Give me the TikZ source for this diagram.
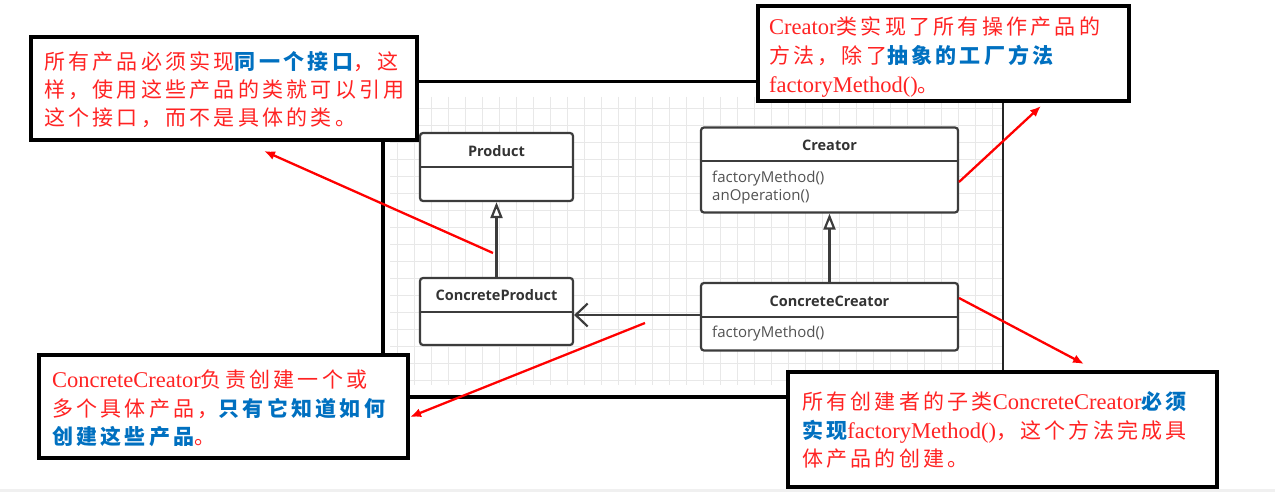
\documentclass[tikz,border=0pt]{standalone}
\usepackage{fontspec}
\setmainfont{Liberation Serif}
\newfontfamily\cjk[LetterSpace=15.5]{Noto Sans CJK SC}
\newfontfamily\umlf{Open Sans}
\usetikzlibrary{arrows.meta}
\definecolor{txtred}{RGB}{255,35,35}
\definecolor{txtblue}{RGB}{0,112,192}
\definecolor{umlline}{RGB}{60,60,60}
\definecolor{umltext}{RGB}{51,51,51}
\definecolor{gridc}{RGB}{232,232,232}
\newcommand{\zh}[1]{{\cjk #1}}
\newcommand{\zhb}[1]{{\color{txtblue}\cjk\bfseries #1}}
\newcommand{\la}[1]{{\rmfamily\fontsize{22.5}{25}\selectfont #1}}
\tikzset{
  gridline/.style={draw=gridc, line width=1pt},
  umlbox/.style={draw=umlline, line width=2.2pt, rounded corners=3pt, fill=white, inner sep=0pt},
  umldiv/.style={draw=umlline, line width=2pt},
  umltitle/.style={inner sep=0pt, text=umltext, font=\umlf\bfseries\fontsize{14.5}{17}\selectfont},
  umlmeth/.style={inner sep=0pt, anchor=west, text=umltext!85, font=\umlf\fontsize{15}{17}\selectfont},
  gen/.style={draw=umlline, line width=2.2pt, -{Triangle[open, length=16pt, width=12pt, fill=white]}},
  assoc/.style={draw=umlline, line width=2.2pt, -{Straight Barb[length=12pt, width=23pt]}},
  redarrow/.style={draw=red, line width=2.3pt, -{Latex[length=11pt, width=9pt]}},
  callout/.style={draw=black, line width=3.2pt, fill=white, inner sep=0pt},
  cline/.style={anchor=base west, inner sep=0pt, text=txtred, font=\fontsize{21}{25}\selectfont}
}
\begin{document}
\begin{tikzpicture}[x=1pt,y=-1pt]
\useasboundingbox (0,0) rectangle (1275,492);
\fill[white] (0,0) rectangle (1275,492);
\fill[gray!12] (0,489) rectangle (1275,492);
% grid
\foreach \k in {0,...,35} {\pgfmathsetmacro\xx{397.7+17*\k}\draw[gridline] (\xx,97) -- (\xx,385);}
\foreach \k in {0,...,16} {\pgfmathsetmacro\yy{108.3+17*\k}\draw[gridline] (390,\yy) -- (1003,\yy);}
% frame
\draw[line width=3.4pt, black] (1003,81.5) -- (383,81.5) -- (383,397) -- (1003,397);
\draw[line width=1.3pt, black!85] (1003,81) -- (1003,397);
% UML classes
\node[umlbox, minimum width=153pt, minimum height=68pt] (product) at (496.5,167) {};
\draw[umldiv] (product.west |- 0,167) -- (product.east |- 0,167);
\node[umltitle] (productT) at (496.5,151) {Product};

\node[umlbox, minimum width=153pt, minimum height=67pt] (cproduct) at (496.5,311.5) {};
\draw[umldiv] (cproduct.west |- 0,312) -- (cproduct.east |- 0,312);
\node[umltitle] (cproductT) at (496.5,295) {ConcreteProduct};

\node[umlbox, minimum width=257pt, minimum height=85pt] (creator) at (829.5,170) {};
\draw[umldiv] (creator.west |- 0,161.5) -- (creator.east |- 0,161.5);
\node[umltitle] (creatorT) at (829.5,145) {Creator};
\node[umlmeth] (creatorM1) at (712,179) {factoryMethod()};
\node[umlmeth] (creatorM2) at (712,197) {anOperation()};

\node[umlbox, minimum width=257pt, minimum height=67.5pt] (ccreator) at (829.5,316.75) {};
\draw[umldiv] (ccreator.west |- 0,316.7) -- (ccreator.east |- 0,316.7);
\node[umltitle] (ccreatorT) at (829.5,301) {ConcreteCreator};
\node[umlmeth] (ccreatorM1) at (712,334) {factoryMethod()};
% UML connectors
\draw[gen] (cproduct.north) -- (product.south);
\draw[gen] (ccreator.north) -- (creator.south);
\draw[assoc] (ccreator.west |- 0,315) -- (cproduct.east |- 0,315);
% red arrows
\coordinate (a1s) at (493,253); \coordinate (a1e) at (264,151);
\coordinate (a2s) at (959,182); \coordinate (a2e) at (1041,106);
\coordinate (a3s) at (959,298); \coordinate (a3e) at (1084,364);
\coordinate (a4s) at (645,323); \coordinate (a4e) at (410,417);
\draw[redarrow] (a1s) -- (a1e);
\draw[redarrow] (a2s) -- (a2e);
\draw[redarrow] (a3s) -- (a3e);
\draw[redarrow] (a4s) -- (a4e);
% callouts
\node[callout, minimum width=386pt, minimum height=103pt] (tl) at (224,88.5) {};
\node[cline] (tl1) at (44,70) {\zh{所有产品必须实现}\zhb{同一个接口}\zh{，这}};
\node[cline] (tl2) at (44,98) {\zh{样，使用这些产品的类就可以引用}};
\node[cline] (tl3) at (44,126) {\zh{这个接口，而不是具体的类。}};

\node[callout, minimum width=371pt, minimum height=95pt] (tr) at (943.5,53.5) {};
\node[cline] (tr1) at (769,35) {\la{Creator}\zh{类实现了所有操作产品的}};
\node[cline] (tr2) at (769,64) {\zh{方法，除了}\zhb{抽象的工厂方法}};
\node[cline] (tr3) at (769,93) {\la{factoryMethod()}\zh{。}};

\node[callout, minimum width=369pt, minimum height=103pt] (bl) at (223.5,406.5) {};
\node[cline] (bl1) at (52,387) {\la{ConcreteCreator}\zh{负责创建一个或}};
\node[cline] (bl2) at (52,416) {\zh{多个具体产品，}\zhb{只有它知道如何}};
\node[cline] (bl3) at (52,444) {\zhb{创建这些产品}\zh{。}};

\node[callout, minimum width=429pt, minimum height=115pt] (br) at (1002.5,429.5) {};
\node[cline] (br1) at (802,409.5) {\zh{所有创建者的子类}\la{ConcreteCreator}\zhb{必须}};
\node[cline] (br2) at (802,438) {\zhb{实现}\la{factoryMethod()}\zh{，这个方法完成具}};
\node[cline] (br3) at (802,466) {\zh{体产品的创建。}};
\end{tikzpicture}
\end{document}
